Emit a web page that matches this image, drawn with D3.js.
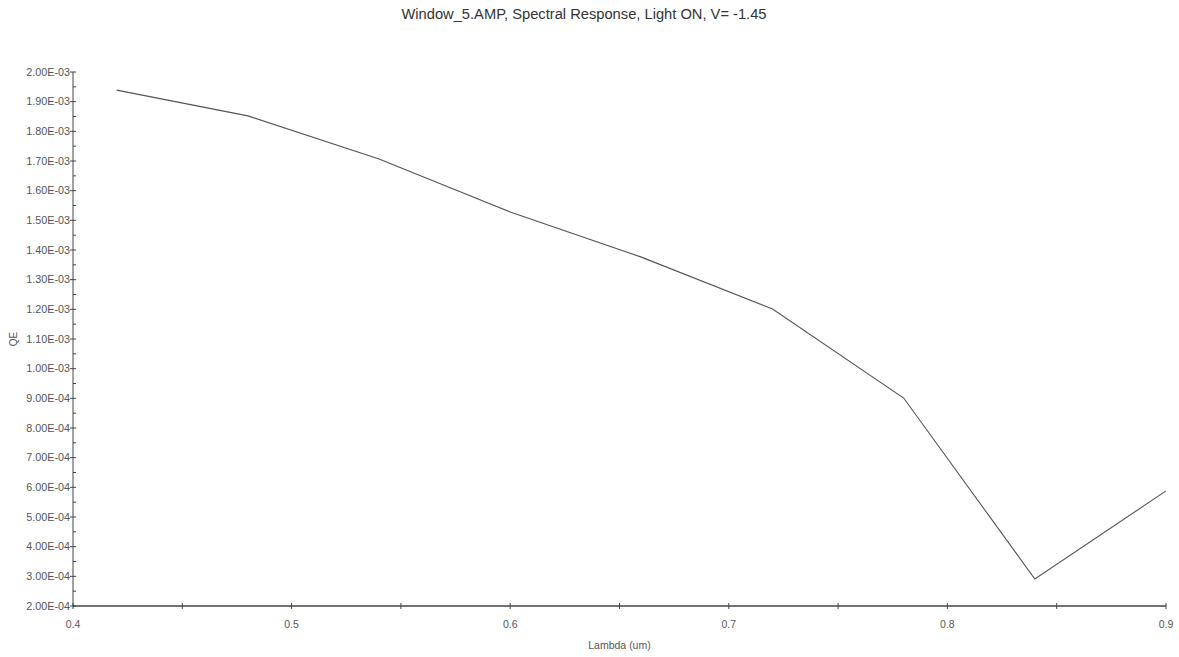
<!DOCTYPE html>
<html>
<head>
<meta charset="utf-8">
<script src="https://cdn.jsdelivr.net/npm/d3@7"></script>
<style>
  html, body { margin: 0; padding: 0; background: #fff; }
  svg { display: block; font-family: "Liberation Sans", Arial, sans-serif; }
</style>
</head>
<body>
<div id="chart"></div>
<script>
// Data
const lambda = [0.42, 0.48, 0.54, 0.60, 0.66, 0.72, 0.78, 0.84, 0.90];
const qe = [1.939e-3, 1.852e-3, 1.707e-3, 1.528e-3, 1.376e-3, 1.201e-3, 9.01e-4, 2.91e-4, 5.88e-4];

const xTicks = [0.4, 0.5, 0.6, 0.7, 0.8, 0.9];
const yTicks = [2e-4, 3e-4, 4e-4, 5e-4, 6e-4, 7e-4, 8e-4, 9e-4, 1e-3, 1.1e-3, 1.2e-3,
                1.3e-3, 1.4e-3, 1.5e-3, 1.6e-3, 1.7e-3, 1.8e-3, 1.9e-3, 2e-3];

const titleText = 'Window_5.AMP, Spectral Response, Light ON, V= -1.45';
const xLabel = 'Lambda (um)';
const yLabel = 'QE';

const width = 1179, height = 657;
const margin = {top: 72, right: 13, bottom: 51, left: 73};

const svg = d3.select('#chart')
    .append('svg')
    .attr('width', width)
    .attr('height', height);

const x = d3.scaleLinear()
    .domain([0.4, 0.9])
    .range([margin.left, width - margin.right]);

const y = d3.scaleLinear()
    .domain([2e-4, 2e-3])
    .range([height - margin.bottom, margin.top]);

const axisColor = '#444';
const textColor = '#555';

// Title
svg.append('text')
    .attr('x', 584)
    .attr('y', 19)
    .attr('text-anchor', 'middle')
    .attr('font-size', '14.7px')
    .attr('fill', '#333')
    .text(titleText);

// Minor ticks (half steps)
const fmtY = v => v.toExponential(2).toUpperCase().replace(/E([+-])(\d)$/, 'E$10$2');

const yMinor = yTicks.slice(1).map((t, i) => (t + yTicks[i]) / 2);
const xMinor = xTicks.slice(1).map((t, i) => (t + xTicks[i]) / 2);

// Y axis
const yAxis = svg.append('g');
yAxis.append('line')
    .attr('x1', x(0.4)).attr('x2', x(0.4))
    .attr('y1', y(2e-3)).attr('y2', y(2e-4))
    .attr('stroke', axisColor);
yAxis.selectAll('.ymaj').data(yTicks).join('line')
    .attr('x1', x(0.4) - 3).attr('x2', x(0.4) + 3)
    .attr('y1', d => y(d)).attr('y2', d => y(d))
    .attr('stroke', axisColor);
yAxis.selectAll('.ymin').data(yMinor).join('line')
    .attr('x1', x(0.4)).attr('x2', x(0.4) + 3)
    .attr('y1', d => y(d)).attr('y2', d => y(d))
    .attr('stroke', axisColor);
yAxis.selectAll('text').data(yTicks).join('text')
    .attr('x', x(0.4) - 3)
    .attr('y', d => y(d))
    .attr('dy', '0.35em')
    .attr('text-anchor', 'end')
    .attr('font-size', '10.8px')
    .attr('fill', textColor)
    .text(fmtY);

// X axis
const xAxis = svg.append('g');
xAxis.append('line')
    .attr('x1', x(0.4)).attr('x2', x(0.9))
    .attr('y1', y(2e-4)).attr('y2', y(2e-4))
    .attr('stroke', axisColor)
    .attr('stroke-width', 1.3);
xAxis.selectAll('.xmaj').data(xTicks.concat(xMinor)).join('line')
    .attr('x1', d => x(d)).attr('x2', d => x(d))
    .attr('y1', y(2e-4) - 3).attr('y2', y(2e-4) + 3)
    .attr('stroke', axisColor);
xAxis.selectAll('text').data(xTicks).join('text')
    .attr('x', d => x(d))
    .attr('y', y(2e-4) + 22)
    .attr('text-anchor', 'middle')
    .attr('font-size', '10.5px')
    .attr('fill', textColor)
    .text(d => d3.format('.1f')(d));

// Axis titles
svg.append('text')
    .attr('x', (x(0.4) + x(0.9)) / 2)
    .attr('y', 649)
    .attr('text-anchor', 'middle')
    .attr('font-size', '10.5px')
    .attr('fill', textColor)
    .text(xLabel);

svg.append('text')
    .attr('transform', `translate(17,${(y(2e-4) + y(2e-3)) / 2}) rotate(-90)`)
    .attr('text-anchor', 'middle')
    .attr('font-size', '10px')
    .attr('fill', textColor)
    .text(yLabel);

// Data line
const line = d3.line()
    .x((d, i) => x(lambda[i]))
    .y(d => y(d));

svg.append('path')
    .datum(qe)
    .attr('fill', 'none')
    .attr('stroke', '#555')
    .attr('stroke-width', 1.1)
    .attr('d', line);
</script>
</body>
</html>
